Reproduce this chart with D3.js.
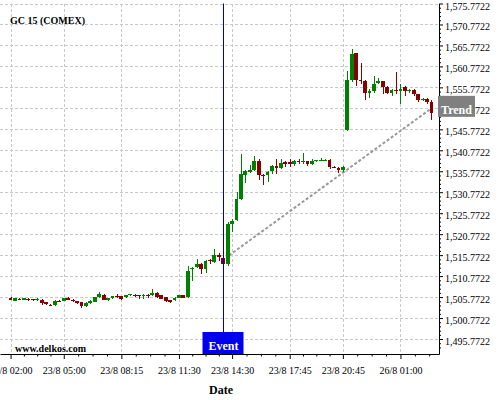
<!DOCTYPE html>
<html>
<head>
<meta charset="utf-8">
<script src="https://cdn.jsdelivr.net/npm/d3@7"></script>
<style>
  body { margin: 0; background: #fff; }
</style>
</head>
<body>
<script>
// 15 minute bars, index 0 = 23/8 02:00
const open = [
  1505.5, 1504.9, 1505.35, 1505.1, 1505.3, 1505.2, 1505.1, 1505.15, 1504.5, 1504.0,
  1503.85, 1504.85, 1504.9, 1505.45, 1505.1, 1504.75, 1504.5, 1503.7, 1504.35, 1504.7,
  1505.7, 1506.3, 1505.0, 1505.53, 1506.1, 1505.93, 1505.77, 1506.17, 1506.33, 1506.17,
  1506.1, 1506.33, 1506.17, 1506.73, 1506.17, 1505.77, 1504.97, 1504.97, 1505.6, 1506.17,
  1505.7, 1512.5, 1512.9, 1513.75, 1512.55, 1514.6, 1514.1, 1515.7, 1515.2, 1513.6,
  1523.26, 1524.05, 1529.2, 1534.94, 1535.6, 1536.1, 1538.2, 1534.9, 1534.8, 1535.73,
  1536.92, 1536.6, 1537.95, 1537.95, 1537.55, 1538.2, 1538.0, 1538.2, 1537.4, 1538.2,
  1538.3, 1538.4, 1538.5, 1536.9, 1536.6, 1535.97, 1545.5, 1557.6, 1563.9, 1557.6,
  1557.4, 1554.4, 1554.9, 1556.8, 1557.2, 1555.8, 1554.4, 1555.2, 1554.9, 1555.8,
  1555.1, 1555.2, 1554.1, 1552.8, 1553.05, 1552.25,
];
const high = [
  1505.7, 1505.5, 1505.5, 1505.6, 1505.5, 1505.4, 1505.5, 1505.3, 1504.6, 1504.1,
  1505.0, 1505.0, 1505.6, 1505.7, 1505.3, 1504.9, 1504.6, 1504.5, 1505.0, 1505.8,
  1507.0, 1506.4, 1505.6, 1506.1, 1506.4, 1506.0, 1506.3, 1506.6, 1506.4, 1506.3,
  1506.4, 1506.4, 1507.8, 1506.9, 1506.3, 1505.9, 1505.1, 1505.7, 1506.3, 1506.3,
  1513.3, 1513.0, 1514.9, 1514.0, 1514.5, 1514.8, 1517.3, 1516.3, 1515.4, 1523.6,
  1524.5, 1530.8, 1539.9, 1536.0, 1537.2, 1539.3, 1538.75, 1535.1, 1535.8, 1537.2,
  1538.75, 1538.7, 1538.1, 1538.75, 1538.4, 1538.7, 1540.1, 1538.3, 1538.7, 1538.5,
  1538.9, 1538.7, 1538.8, 1537.0, 1536.7, 1537.0, 1559.6, 1564.96, 1564.0, 1561.5,
  1557.6, 1555.3, 1558.4, 1558.0, 1557.4, 1556.0, 1555.4, 1559.4, 1556.6, 1556.0,
  1555.5, 1555.4, 1554.2, 1553.2, 1553.3, 1552.65,
];
const low = [
  1505.0, 1504.8, 1505.0, 1505.0, 1504.9, 1504.8, 1504.8, 1504.0, 1503.9, 1503.7,
  1503.7, 1504.5, 1504.8, 1505.0, 1504.6, 1504.2, 1503.2, 1503.3, 1504.2, 1504.5,
  1505.6, 1505.0, 1504.9, 1505.3, 1505.5, 1505.0, 1505.6, 1506.0, 1505.8, 1505.2,
  1505.2, 1505.6, 1506.0, 1505.6, 1505.2, 1504.6, 1504.4, 1504.8, 1505.5, 1505.5,
  1505.5, 1509.7, 1512.7, 1511.35, 1511.6, 1513.6, 1514.0, 1514.3, 1513.3, 1513.2,
  1521.3, 1523.9, 1529.0, 1533.0, 1535.4, 1535.9, 1533.6, 1532.4, 1533.2, 1535.2,
  1535.2, 1536.3, 1536.9, 1536.9, 1537.0, 1537.4, 1537.6, 1537.0, 1537.3, 1537.9,
  1538.1, 1538.2, 1536.2, 1536.5, 1535.4, 1535.7, 1545.3, 1557.0, 1556.2, 1556.6,
  1552.8, 1553.3, 1554.4, 1556.5, 1554.1, 1554.1, 1553.6, 1554.2, 1551.7, 1553.6,
  1554.5, 1553.7, 1552.3, 1552.5, 1551.7, 1548.0,
];
const close = [
  1505.1, 1505.45, 1505.25, 1505.45, 1505.15, 1505.1, 1505.2, 1504.35, 1504.1, 1503.8,
  1504.9, 1504.7, 1505.45, 1505.15, 1504.8, 1504.4, 1503.55, 1504.35, 1504.9, 1505.7,
  1506.5, 1505.15, 1505.5, 1505.93, 1505.85, 1505.37, 1506.17, 1506.4, 1506.0, 1505.93,
  1506.33, 1506.17, 1506.73, 1505.77, 1505.37, 1504.82, 1504.58, 1505.6, 1506.17, 1505.6,
  1512.1, 1512.8, 1513.6, 1512.5, 1514.35, 1514.4, 1515.9, 1515.3, 1513.6, 1523.2,
  1523.9, 1529.2, 1535.2, 1535.73, 1536.1, 1538.2, 1534.8, 1534.7, 1535.6, 1536.95,
  1536.6, 1537.7, 1537.55, 1537.55, 1538.2, 1538.0, 1538.2, 1537.55, 1538.2, 1538.35,
  1538.45, 1538.55, 1536.76, 1536.7, 1535.97, 1536.9, 1557.6, 1563.8, 1557.6, 1557.5,
  1554.4, 1554.9, 1556.5, 1557.2, 1555.8, 1554.4, 1555.2, 1554.9, 1555.4, 1555.0,
  1555.2, 1554.1, 1552.8, 1553.05, 1552.25, 1549.6,
];

const tickIdx = [0, 12, 25, 38, 50, 63, 75, 88];
const tickLabels = ['23/8 02:00', '23/8 05:00', '23/8 08:15', '23/8 11:30',
  '23/8 14:30', '23/8 17:45', '23/8 20:45', '26/8 01:00'];

const yTicks = [1495.7722, 1500.7722, 1505.7722, 1510.7722, 1515.7722, 1520.7722,
  1525.7722, 1530.7722, 1535.7722, 1540.7722, 1545.7722, 1550.7722, 1555.7722,
  1560.7722, 1565.7722, 1570.7722, 1575.7722];

const eventIdx = 48;
const trendIdx = [49.3, 95];
const trendPrice = [1515.7, 1550.7722];

const serif = '"Liberation Serif", "DejaVu Serif", serif';
const green = '#008000';
const red = '#880000';

const width = 500;
const height = 400;
const plotRight = 439;
const plotTop = 3.5;
const plotBottom = 354;

const svg = d3.select('body').append('svg')
  .attr('width', width)
  .attr('height', height)
  .style('font-family', serif);

const x = d3.scaleLinear().domain([-2.39, 96.7]).range([0, plotRight]);
const y = d3.scaleLinear().domain([1492.2, 1575.7722]).range([plotBottom, plotTop]);

// grid
const grid = svg.append('g')
  .attr('stroke', '#c8c8c8')
  .attr('stroke-dasharray', '3,2')
  .attr('shape-rendering', 'crispEdges');

grid.selectAll('.h').data(yTicks).enter().append('line')
  .attr('x1', 0).attr('x2', plotRight)
  .attr('y1', d => Math.round(y(d)) + 0.5)
  .attr('y2', d => Math.round(y(d)) + 0.5);

grid.selectAll('.v').data(tickIdx).enter().append('line')
  .attr('y1', plotTop).attr('y2', plotBottom)
  .attr('x1', d => Math.round(x(d)) + 0.5)
  .attr('x2', d => Math.round(x(d)) + 0.5);

// trend line
svg.append('line')
  .attr('x1', x(trendIdx[0])).attr('y1', y(trendPrice[0]))
  .attr('x2', x(trendIdx[1])).attr('y2', y(trendPrice[1]))
  .attr('stroke', '#999')
  .attr('stroke-width', 2)
  .attr('stroke-dasharray', '3,2');

// candles
const bw = 3.8;
const candles = svg.append('g')
  .attr('shape-rendering', 'crispEdges')
  .selectAll('g')
  .data(open.map((o, i) => ({ i, o, h: high[i], l: low[i], c: close[i] })))
  .enter().append('g');

candles.append('line')
  .attr('x1', d => Math.round(x(d.i)) + 0.5)
  .attr('x2', d => Math.round(x(d.i)) + 0.5)
  .attr('y1', d => y(d.h))
  .attr('y2', d => y(d.l))
  .attr('stroke', d => (d.c >= d.o ? green : red));

candles.append('rect')
  .attr('x', d => x(d.i) - bw / 2)
  .attr('width', bw)
  .attr('y', d => y(Math.max(d.o, d.c)))
  .attr('height', d => Math.max(1, Math.abs(y(d.o) - y(d.c))))
  .attr('fill', d => (d.c >= d.o ? green : red));

// axes
const yAxis = svg.append('g')
  .attr('transform', `translate(${plotRight},0)`)
  .call(d3.axisRight(y).tickValues(yTicks).tickFormat(d3.format(',.4f'))
    .tickSize(4).tickSizeOuter(0));

const yMinor = [];
for (let v = 1493.7722; v < 1576; v += 1) {
  if (!yTicks.some(t => Math.abs(t - v) < 0.01)) yMinor.push(v);
}
svg.append('g')
  .attr('transform', `translate(${plotRight},0)`)
  .call(d3.axisRight(y).tickValues(yMinor).tickFormat('').tickSize(2).tickSizeOuter(0))
  .call(g => g.select('.domain').remove());

yAxis.selectAll('text')
  .attr('x', 6)
  .attr('dy', '0.55em')
  .attr('font-family', serif)
  .attr('font-size', 10)
  .attr('fill', '#000');

const xAxis = svg.append('g')
  .attr('transform', `translate(0,${plotBottom})`)
  .call(d3.axisBottom(x).tickValues(tickIdx).tickFormat((d, i) => tickLabels[i])
    .tickSize(5).tickSizeOuter(0));

xAxis.selectAll('text')
  .attr('y', 19.5)
  .attr('dy', null)
  .attr('font-family', serif)
  .attr('font-size', 10)
  .attr('fill', '#000');

const xMinor = [];
tickIdx.forEach((t, k) => {
  const next = k < tickIdx.length - 1 ? tickIdx[k + 1] : t + 13;
  for (let q = 1; q < 4; q += 1) xMinor.push(t + (next - t) * q / 4);
});
svg.append('g')
  .attr('transform', `translate(0,${plotBottom})`)
  .call(d3.axisBottom(x).tickValues(xMinor.filter(v => x(v) < plotRight))
    .tickFormat('').tickSize(2.5).tickSizeOuter(0))
  .call(g => g.select('.domain').remove());

// event marker
const ex = Math.round(x(eventIdx)) + 0.5;
svg.append('line')
  .attr('x1', ex).attr('x2', ex)
  .attr('y1', plotTop).attr('y2', 332)
  .attr('stroke', '#0000c0');

svg.append('rect')
  .attr('x', ex - 21).attr('y', 332)
  .attr('width', 41).attr('height', 22)
  .attr('fill', '#0000f0');

svg.append('text')
  .attr('x', ex).attr('y', 349.5)
  .attr('text-anchor', 'middle')
  .attr('font-size', 12)
  .attr('font-weight', 'bold')
  .attr('fill', '#fff')
  .text('Event');

// trend label
const ty = y(trendPrice[1]);
svg.append('rect')
  .attr('x', 438).attr('y', ty - 12.5)
  .attr('width', 37).attr('height', 21)
  .attr('fill', '#808080');

svg.append('text')
  .attr('x', 456.5).attr('y', ty + 6)
  .attr('text-anchor', 'middle')
  .attr('font-size', 12)
  .attr('font-weight', 'bold')
  .attr('fill', '#fff')
  .text('Trend');

// titles
svg.append('text')
  .attr('x', 10).attr('y', 24)
  .attr('font-size', 10)
  .attr('font-weight', 'bold')
  .text('GC 15 (COMEX)');

svg.append('text')
  .attr('x', 15).attr('y', 352)
  .attr('font-size', 10)
  .attr('font-weight', 'bold')
  .text('www.delkos.com');

svg.append('text')
  .attr('x', 221).attr('y', 394)
  .attr('text-anchor', 'middle')
  .attr('font-size', 12)
  .attr('font-weight', 'bold')
  .text('Date');
</script>
</body>
</html>
